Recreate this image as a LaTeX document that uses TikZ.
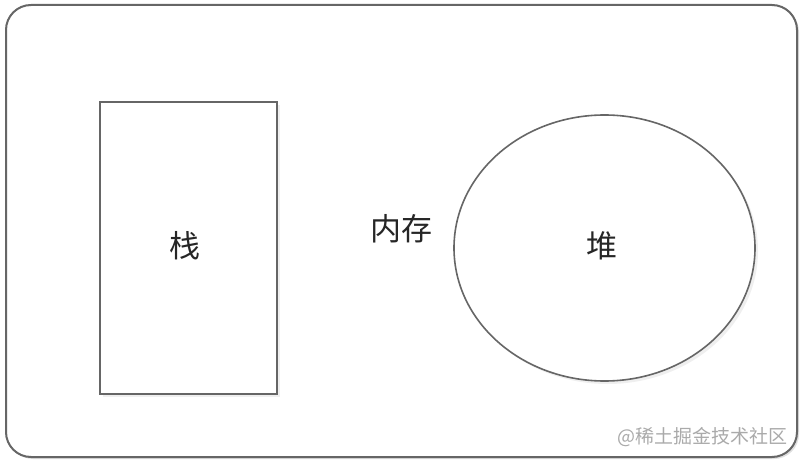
\documentclass[tikz,border=0pt]{standalone}
\usepackage{fontspec}
\setmainfont{Noto Sans CJK SC}
\usepackage{tikz}
\usetikzlibrary{positioning,shapes.geometric,shadows}
\definecolor{framegray}{RGB}{102,102,102}
\definecolor{markgray}{RGB}{170,170,170}
\tikzset{
  frame/.style={
    draw=framegray, line width=2pt,
    rounded corners=25pt,
    drop shadow={opacity=0.25, shadow xshift=2pt, shadow yshift=-2pt},
    fill=white},
  stackbox/.style={
    rectangle,
    draw=framegray, line width=1.6pt,
    fill=white,
    drop shadow={opacity=0.12, shadow xshift=3pt, shadow yshift=-3pt},
    minimum width=177pt,
    minimum height=292pt,
    inner sep=0pt},
  heapblob/.style={
    ellipse,
    draw=framegray, line width=1.6pt,
    fill=white,
    drop shadow={opacity=0.12, shadow xshift=3pt, shadow yshift=-3pt},
    minimum width=301pt,
    minimum height=266pt,
    inner sep=0pt},
  label/.style={font=\fontsize{31}{34}\selectfont, text=black!85},
  watermark/.style={font=\fontsize{19}{21}\selectfont, text=markgray, anchor=east}
}
\begin{document}
\begin{tikzpicture}[x=1pt,y=-1pt]
    \useasboundingbox (0,0) rectangle (803,462);
    % outer memory frame
    \draw[frame] (6,5) rectangle (797,457);

    \node[stackbox] (stack) at (188.5,248) {};
    \node[label] (stacktext) at (185,246) {栈};

    \node[heapblob] (heap) at (604.5,248) {};
    \node[label] (heaptext) at (602,246) {堆};

    \node[label] (mem) at (401,229) {内存};

    \node[watermark] (mark) at (791,437) {@稀土掘金技术社区};
\end{tikzpicture}
\end{document}
